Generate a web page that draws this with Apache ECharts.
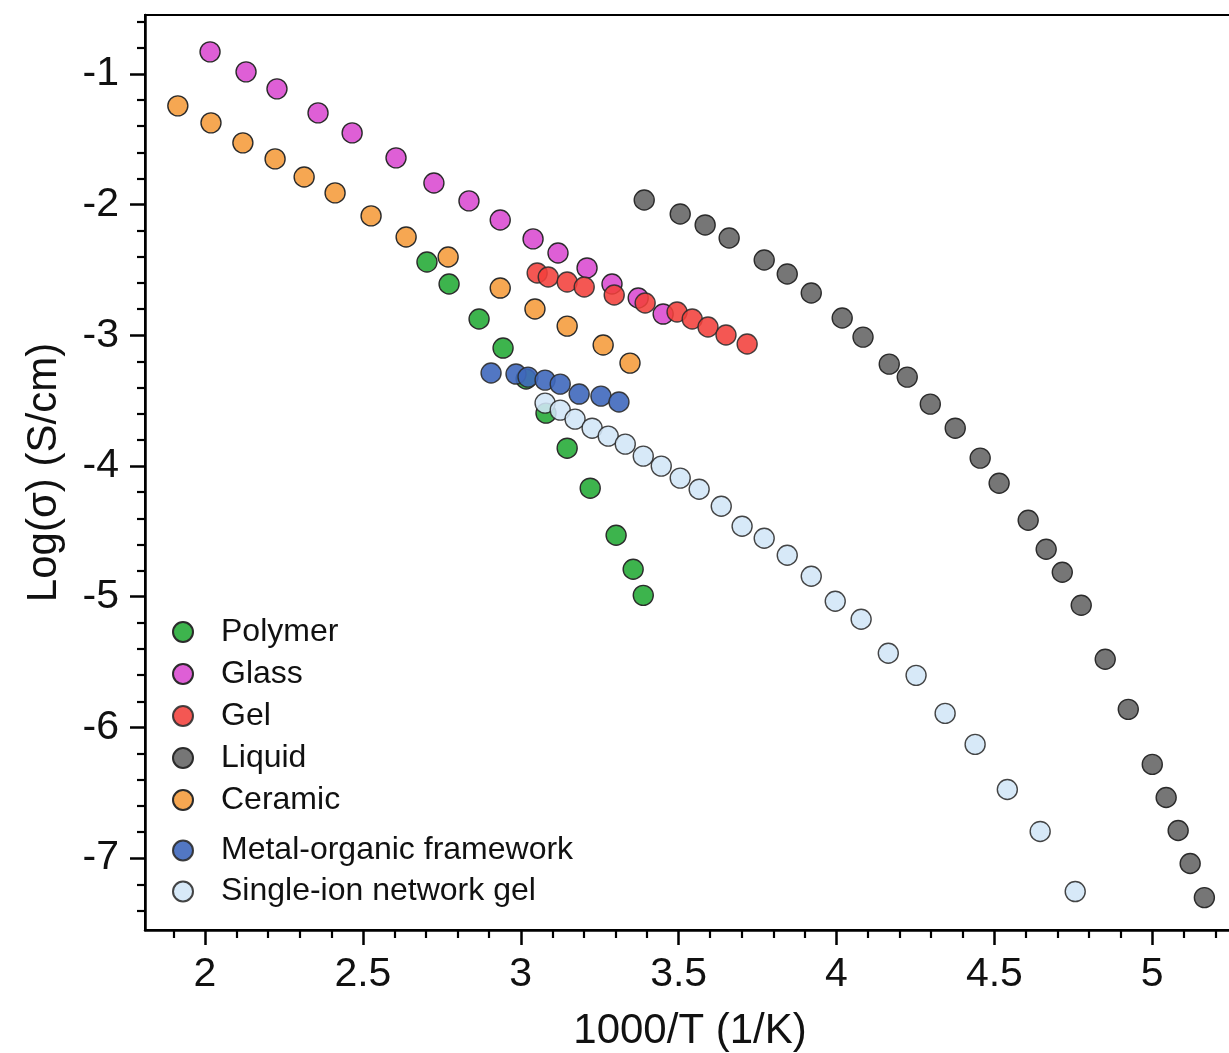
<!DOCTYPE html>
<html>
<head>
<meta charset="utf-8">
<title>Ionic conductivity vs inverse temperature</title>
<script src="https://cdn.jsdelivr.net/npm/echarts@6/dist/echarts.min.js"></script>
<style>
  html, body { margin: 0; padding: 0; background: #ffffff; }
  #chart { width: 1229px; height: 1053px; }
</style>
</head>
<body>
<div id="chart"></div>
<script>
// Log conductivity (S/cm) against 1000/T (1/K) for several electrolyte classes.
// Each series: [1000/T, log(sigma)]
const polymer = [
  [2.703, -2.44], [2.773, -2.608], [2.868, -2.876], [2.944, -3.098],
  [3.017, -3.335], [3.080, -3.596], [3.147, -3.864], [3.220, -4.17],
  [3.302, -4.53], [3.356, -4.79], [3.388, -4.99]
];
const glass = [
  [2.016, -0.832], [2.130, -0.985], [2.228, -1.115], [2.358, -1.299],
  [2.466, -1.452], [2.605, -1.643], [2.725, -1.835], [2.836, -1.972],
  [2.935, -2.118], [3.039, -2.263], [3.118, -2.371], [3.210, -2.485],
  [3.289, -2.608], [3.372, -2.715], [3.451, -2.838]
];
const gel = [
  [3.052, -2.524], [3.087, -2.554], [3.147, -2.593], [3.201, -2.631],
  [3.296, -2.692], [3.394, -2.753], [3.495, -2.822], [3.543, -2.876],
  [3.593, -2.937], [3.650, -2.998], [3.717, -3.067]
];
const liquid = [
  [3.391, -1.965], [3.505, -2.072], [3.584, -2.156], [3.660, -2.256],
  [3.771, -2.424], [3.844, -2.531], [3.920, -2.677], [4.018, -2.868],
  [4.084, -3.014], [4.167, -3.221], [4.224, -3.320], [4.297, -3.527],
  [4.376, -3.711], [4.455, -3.940], [4.515, -4.132], [4.607, -4.415],
  [4.664, -4.637], [4.715, -4.813], [4.775, -5.066], [4.851, -5.479],
  [4.924, -5.862], [5.000, -6.283], [5.044, -6.536], [5.082, -6.789],
  [5.120, -7.041], [5.165, -7.302]
];
const ceramic = [
  [1.914, -1.245], [2.019, -1.375], [2.120, -1.528], [2.222, -1.651],
  [2.314, -1.789], [2.412, -1.911], [2.526, -2.087], [2.637, -2.248],
  [2.770, -2.401], [2.935, -2.639], [3.045, -2.799], [3.147, -2.930],
  [3.261, -3.075], [3.346, -3.213]
];
const mof = [
  [2.906, -3.289], [2.985, -3.297], [3.023, -3.32], [3.077, -3.343],
  [3.125, -3.374], [3.185, -3.45], [3.254, -3.466], [3.311, -3.511]
];
const singleIonGel = [
  [3.077, -3.519], [3.125, -3.573], [3.172, -3.642], [3.226, -3.711],
  [3.277, -3.772], [3.331, -3.833], [3.388, -3.925], [3.445, -4.001],
  [3.505, -4.093], [3.565, -4.178], [3.635, -4.308], [3.701, -4.461],
  [3.771, -4.553], [3.844, -4.683], [3.920, -4.844], [3.996, -5.035],
  [4.078, -5.173], [4.164, -5.433], [4.252, -5.602], [4.344, -5.893],
  [4.439, -6.130], [4.541, -6.475], [4.645, -6.796], [4.756, -7.256]
];

// Tick positions
const xMajorTicks = [2, 2.5, 3, 3.5, 4, 4.5, 5];
const yMajorTicks = [-7, -6, -5, -4, -3, -2, -1];
const xRange = [1.81, 5.3];
const yRange = [-7.55, -0.55];

// minor ticks: every 0.1 on x, every 0.2 on y (skipping the major ones)
function minorTicks(lo, hi, step, majors) {
  const out = [];
  const n = Math.round((hi - lo) / step);
  for (let i = 0; i <= n; i++) {
    const v = +(lo + i * step).toFixed(3);
    if (!majors.some(m => Math.abs(m - v) < 1e-6)) out.push(v);
  }
  return out;
}
const xMinorTicks = minorTicks(1.9, 5.2, 0.1, xMajorTicks);
const yMinorTicks = minorTicks(-7.4, -0.6, 0.2, yMajorTicks);

const FONT = '"Liberation Sans", Arial, Helvetica, sans-serif';
const EDGE = '#2b2b2b';

function series(name, data, color, opacity) {
  return {
    name: name,
    type: 'scatter',
    data: data,
    xAxisIndex: 0,
    yAxisIndex: 0,
    symbol: 'circle',
    symbolSize: 20,
    clip: false,
    itemStyle: { color: color, borderColor: EDGE, borderWidth: 1.4, opacity: opacity },
    emphasis: { disabled: true }
  };
}

const legendText = { fontFamily: FONT, fontSize: 32, color: '#111' };

const chart = echarts.init(document.getElementById('chart'), null, { renderer: 'canvas' });
chart.setOption({
  animation: false,
  backgroundColor: '#ffffff',
  grid: {
    // the plot frame runs on past the right edge of the page
    left: 145, top: 15, bottom: 123, width: 1102,
    outerBoundsMode: 'none', containLabel: false,
    show: true, borderColor: '#000', borderWidth: 2, backgroundColor: 'transparent'
  },
  legend: [
    {
      data: ['Polymer', 'Glass', 'Gel', 'Liquid', 'Ceramic'],
      orient: 'vertical', left: 172, top: 611, padding: 0,
      icon: 'circle', itemWidth: 66, itemHeight: 20, itemGap: 0,
      textStyle: Object.assign({ lineHeight: 42 }, legendText),
      selectedMode: false
    },
    {
      data: ['Metal-organic framework', 'Single-ion network gel'],
      orient: 'vertical', left: 172, top: 830, padding: 0,
      icon: 'circle', itemWidth: 66, itemHeight: 20, itemGap: 0,
      textStyle: Object.assign({ lineHeight: 41 }, legendText),
      selectedMode: false
    }
  ],
  xAxis: [
    {
      type: 'value', min: xRange[0], max: xRange[1], position: 'bottom',
      name: '1000/T (1/K)', nameLocation: 'middle', nameGap: 80,
      nameTextStyle: { fontFamily: FONT, fontSize: 42, color: '#111', padding: [0, 12, 0, 0] },
      splitLine: { show: false },
      axisLine: { show: true, onZero: false, lineStyle: { color: '#000', width: 2.5 } },
      axisTick: { show: true, customValues: xMajorTicks, length: 15, lineStyle: { color: '#000', width: 2.5 } },
      axisLabel: { customValues: xMajorTicks, margin: 24, fontFamily: FONT, fontSize: 41, color: '#111' }
    },
    {
      type: 'value', min: xRange[0], max: xRange[1], position: 'bottom',
      splitLine: { show: false },
      axisLine: { show: false, onZero: false },
      axisTick: { show: true, customValues: xMinorTicks, length: 8, lineStyle: { color: '#000', width: 2.2 } },
      axisLabel: { show: false }
    }
  ],
  yAxis: [
    {
      type: 'value', min: yRange[0], max: yRange[1], position: 'left',
      name: 'Log(σ) (S/cm)', nameLocation: 'middle', nameGap: 80,
      nameTextStyle: { fontFamily: FONT, fontSize: 42, color: '#111' },
      splitLine: { show: false },
      axisLine: { show: true, onZero: false, lineStyle: { color: '#000', width: 2.5 } },
      axisTick: { show: true, customValues: yMajorTicks, length: 15, lineStyle: { color: '#000', width: 2.5 } },
      axisLabel: { customValues: yMajorTicks, margin: 26, fontFamily: FONT, fontSize: 41, color: '#111' }
    },
    {
      type: 'value', min: yRange[0], max: yRange[1], position: 'left',
      splitLine: { show: false },
      axisLine: { show: false, onZero: false },
      axisTick: { show: true, customValues: yMinorTicks, length: 8, lineStyle: { color: '#000', width: 2.2 } },
      axisLabel: { show: false }
    }
  ],
  series: [
    series('Polymer', polymer, '#3db44d', 1),
    series('Glass', glass, '#de5fd6', 1),
    series('Gel', gel, '#f3403b', 0.88),
    series('Liquid', liquid, '#767676', 1),
    series('Ceramic', ceramic, '#f6a752', 1),
    series('Metal-organic framework', mof, '#3f68bd', 0.9),
    series('Single-ion network gel', singleIonGel, '#d2e6f7', 0.88)
  ]
});
</script>
</body>
</html>
